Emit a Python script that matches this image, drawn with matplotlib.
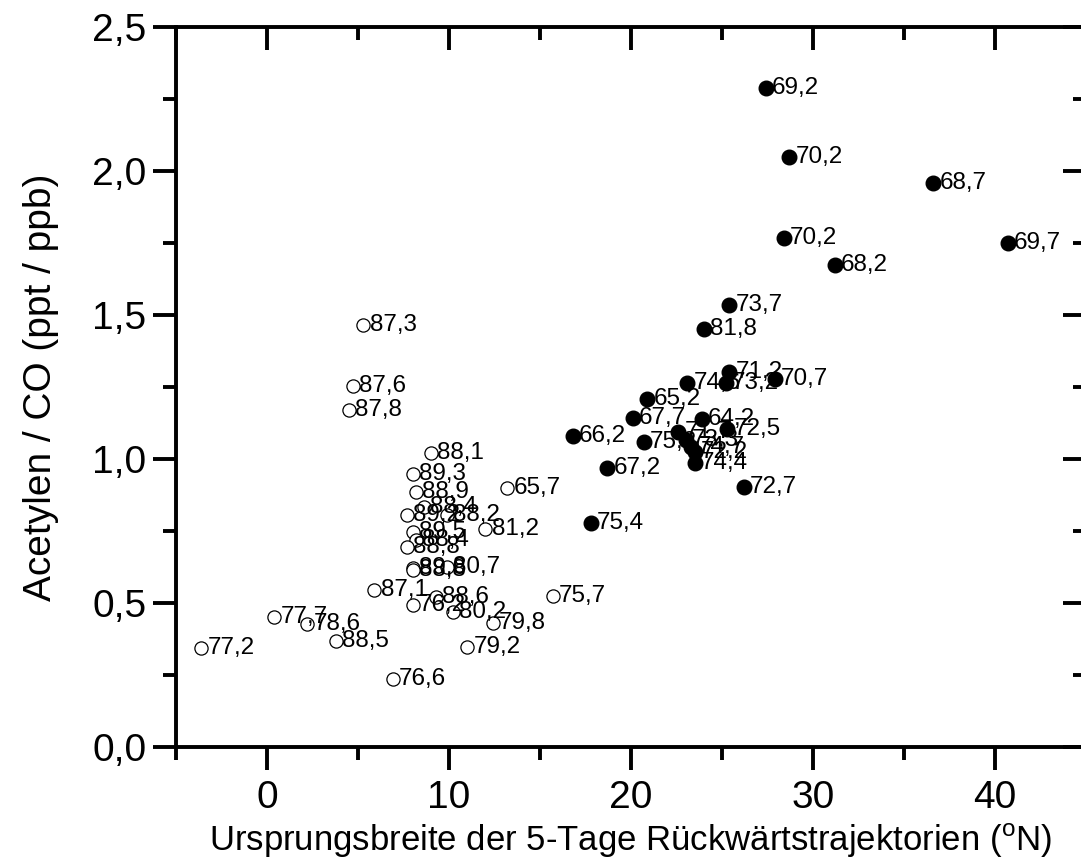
import matplotlib
matplotlib.use("Agg")
import matplotlib.pyplot as plt
from matplotlib.ticker import MultipleLocator, FuncFormatter

plt.rcParams['font.family'] = ['Liberation Sans', 'DejaVu Sans']
plt.rcParams['mathtext.fontset'] = 'custom'
plt.rcParams['mathtext.rm'] = 'Liberation Sans'

# gefuellte Punkte
breite_voll = [27.4, 28.7, 36.6, 28.4, 40.7, 31.2, 25.4, 24.0, 25.4, 25.2, 23.1, 27.9,
               20.9, 20.1, 23.9, 25.3, 20.7, 16.8, 18.7, 17.8, 22.6, 23.0, 23.3, 23.5,
               23.5, 26.2]
ratio_voll = [2.288, 2.049, 1.958, 1.767, 1.750, 1.674, 1.535, 1.451, 1.302, 1.264, 1.264, 1.278,
              1.208, 1.142, 1.139, 1.104, 1.059, 1.080, 0.969, 0.778, 1.095, 1.066, 1.042, 1.025,
              0.986, 0.903]
namen_voll = ['69,2', '70,2', '68,7', '70,2', '69,7', '68,2', '73,7', '81,8', '71,2', '73,2',
              '74,6', '70,7', '65,2', '67,7', '64,2', '72,5', '75,2', '66,2', '67,2', '75,4',
              '71,7', '73,3', '74,7', '72,2', '74,4', '72,7']

# offene Punkte
breite_offen = [5.3, 4.7, 4.5, 9.0, 8.0, 8.2, 13.2, 8.6, 7.7, 9.9, 12.0, 8.0, 8.2, 7.7,
                8.0, 8.0, 9.9, 5.9, 9.3, 8.0, 10.2, 12.4, 15.7, 11.0, 0.4, 2.2, 3.8, -3.6, 6.9]
ratio_offen = [1.465, 1.253, 1.170, 1.021, 0.948, 0.885, 0.899, 0.833, 0.805, 0.806, 0.757,
               0.747, 0.719, 0.694, 0.622, 0.615, 0.625, 0.545, 0.521, 0.493, 0.469, 0.431,
               0.524, 0.347, 0.451, 0.427, 0.368, 0.344, 0.236]
namen_offen = ['87,3', '87,6', '87,8', '88,1', '89,3', '88,9', '65,7', '88,4', '89,2', '88,2',
               '81,2', '89,5', '88,4', '88,8', '89,6', '88,8', '80,7', '87,1', '88,6', '76,2',
               '80,2', '79,8', '75,7', '79,2', '77,7', '78,6', '88,5', '77,2', '76,6']

fig = plt.figure(figsize=(10.81, 8.64), dpi=100)
ax = fig.add_axes([0.1628, 0.1354, 0.8418, 0.8333])

ax.plot(breite_offen, ratio_offen, 'o', ms=9.5, mfc='white', mec='black', mew=0.9, ls='none')
ax.plot(breite_voll, ratio_voll, 'o', ms=10.5, mfc='black', mec='black', ls='none')

for x, y, t in zip(breite_offen + breite_voll, ratio_offen + ratio_voll, namen_offen + namen_voll):
    ax.annotate(t, (x, y), xytext=(4.5, 0), textcoords='offset points', va='center',
                ha='left', fontsize=17.5)

ax.set_xlim(-5, 45)
ax.set_ylim(0, 2.5)
ax.xaxis.set_major_locator(MultipleLocator(10))
ax.xaxis.set_minor_locator(MultipleLocator(5))
ax.yaxis.set_major_locator(MultipleLocator(0.5))
ax.yaxis.set_minor_locator(MultipleLocator(0.25))
ax.yaxis.set_major_formatter(FuncFormatter(lambda v, p: f"{v:.1f}".replace('.', ',')))
ax.xaxis.set_major_formatter(FuncFormatter(lambda v, p: f"{v:.0f}"))

for s in ax.spines.values():
    s.set_linewidth(2.8)

ax.tick_params(which='both', direction='out', width=2.8, labelsize=28)
ax.tick_params(which='major', length=16.5)
ax.tick_params(which='minor', length=9.5)
ax.tick_params(axis='x', pad=7)
ax.tick_params(axis='y', pad=5)

# oben und rechts Striche nach innen
ax2 = ax.twinx()
ax2.set_ylim(ax.get_ylim())
ax2.yaxis.set_major_locator(MultipleLocator(0.5))
ax2.yaxis.set_minor_locator(MultipleLocator(0.25))
ax2.tick_params(which='both', direction='in', width=2.8, labelright=False)
ax2.tick_params(which='major', length=16.5)
ax2.tick_params(which='minor', length=9.5)
ax3 = ax.twiny()
ax3.set_xlim(ax.get_xlim())
ax3.xaxis.set_major_locator(MultipleLocator(10))
ax3.xaxis.set_minor_locator(MultipleLocator(5))
ax3.tick_params(which='both', direction='in', width=2.8, labeltop=False)
ax3.tick_params(which='major', length=16.5)
ax3.tick_params(which='minor', length=9.5)

ax.set_xlabel('Ursprungsbreite der 5-Tage Rückwärtstrajektorien ($^{\\rm o}$N)', fontsize=25, labelpad=4)
ax.set_ylabel('Acetylen / CO (ppt / ppb)', fontsize=28, labelpad=24)

fig.savefig('out.png', dpi=100)
